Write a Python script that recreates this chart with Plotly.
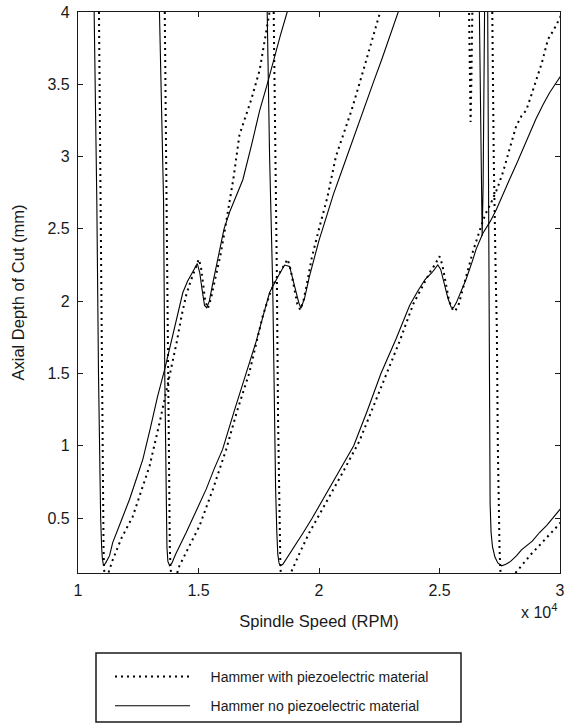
import plotly.graph_objects as go

# Spindle speed in units of 1e4 RPM, axial depth of cut in mm
# ---- Hammer with piezoelectric material (dotted) ----
d1_x = [1.087, 1.093, 1.099, 1.102, 1.104, 1.106, 1.108, 1.111, 1.115, 1.120, 1.126, 1.144, 1.180, 1.227, 1.260, 1.297,
        1.340, 1.380, 1.410, 1.430, 1.450, 1.470, 1.490, 1.501, 1.510, 1.518, 1.528, 1.539, 1.552, 1.566, 1.590, 1.605,
        1.625, 1.645, 1.670, 1.700, 1.720, 1.754, 1.778, 1.795, 1.810]
d1_y = [4.00, 2.70, 1.50, 0.90, 0.50, 0.30, 0.15, 0.06, 0.03, 0.06, 0.12, 0.21, 0.36, 0.51, 0.68, 0.86,
        1.17, 1.48, 1.72, 1.90, 2.05, 2.15, 2.24, 2.29, 2.24, 2.13, 2.00, 1.95, 2.02, 2.13, 2.31, 2.45,
        2.65, 2.85, 3.15, 3.30, 3.40, 3.60, 3.83, 4.00, 4.15]

d2_x = [1.360, 1.368, 1.373, 1.376, 1.379, 1.381, 1.384, 1.388, 1.393, 1.400, 1.410, 1.421, 1.460, 1.504, 1.560, 1.615,
        1.660, 1.710, 1.767, 1.796, 1.820, 1.845, 1.870, 1.882, 1.895, 1.910, 1.922, 1.935, 1.950, 1.970, 2.000, 2.035,
        2.070, 2.100, 2.135, 2.167, 2.210, 2.256, 2.280]
d2_y = [4.00, 2.70, 1.50, 0.90, 0.50, 0.30, 0.15, 0.06, 0.03, 0.06, 0.12, 0.17, 0.30, 0.445, 0.70, 0.975,
        1.24, 1.50, 1.90, 2.05, 2.15, 2.22, 2.29, 2.22, 2.10, 1.98, 1.94, 2.00, 2.12, 2.30, 2.50, 2.72,
        3.00, 3.15, 3.32, 3.50, 3.75, 4.00, 4.15]

d3_x = [1.812, 1.820, 1.825, 1.830, 1.834, 1.837, 1.840, 1.845, 1.852, 1.862, 1.872, 1.882, 1.920, 1.960, 2.000, 2.050,
        2.100, 2.167, 2.220, 2.279, 2.334, 2.391, 2.430, 2.460, 2.480, 2.500, 2.512, 2.525, 2.540, 2.555, 2.565, 2.580,
        2.600, 2.620, 2.638, 2.665, 2.690, 2.714, 2.740, 2.763, 2.790, 2.818, 2.840, 2.860, 2.880, 2.900, 2.925, 2.950,
        2.975, 3.000, 3.020]
d3_y = [4.00, 3.00, 2.20, 1.20, 0.60, 0.30, 0.15, 0.06, 0.02, 0.04, 0.08, 0.12, 0.26, 0.40, 0.52, 0.66,
        0.82, 1.03, 1.25, 1.50, 1.72, 1.98, 2.10, 2.20, 2.25, 2.31, 2.25, 2.12, 2.00, 1.94, 1.93, 1.98,
        2.10, 2.22, 2.34, 2.48, 2.60, 2.68, 2.78, 2.89, 3.05, 3.21, 3.28, 3.32, 3.42, 3.53, 3.65, 3.81,
        3.88, 3.96, 4.05]

d4_x = [2.719, 2.725, 2.733, 2.738, 2.742, 2.746, 2.749, 2.752, 2.758, 2.770, 2.785, 2.800, 2.810, 2.840, 2.880, 2.920,
        2.960, 3.000, 3.020]
d4_y = [4.00, 3.00, 2.20, 1.80, 1.00, 0.50, 0.30, 0.15, 0.05, 0.00, 0.02, 0.07, 0.11, 0.17, 0.25, 0.32,
        0.39, 0.46, 0.50]

d5_x = [2.621, 2.624, 2.627, 2.629, 2.632, 2.635, 2.638]
d5_y = [4.20, 3.80, 3.50, 3.24, 3.50, 3.80, 4.20]

# ---- Hammer no piezoelectric material (solid) ----
s1_x = [1.067, 1.078, 1.085, 1.089, 1.094, 1.098, 1.101, 1.106, 1.115, 1.131, 1.144, 1.179, 1.214, 1.240, 1.269, 1.300,
        1.330, 1.360, 1.380, 1.410, 1.435, 1.455, 1.470, 1.485, 1.495, 1.505, 1.515, 1.525, 1.534, 1.545, 1.560, 1.575,
        1.590, 1.606, 1.630, 1.655, 1.684, 1.720, 1.754, 1.785, 1.810, 1.840, 1.868, 1.900]
s1_y = [4.00, 2.70, 1.50, 0.90, 0.50, 0.30, 0.22, 0.17, 0.19, 0.24, 0.33, 0.48, 0.63, 0.76, 0.906, 1.12,
        1.34, 1.53, 1.67, 1.88, 2.06, 2.14, 2.19, 2.23, 2.26, 2.20, 2.08, 1.97, 1.955, 2.00, 2.13, 2.25,
        2.38, 2.50, 2.62, 2.72, 2.84, 3.08, 3.32, 3.50, 3.66, 3.84, 4.00, 4.20]

s2_x = [1.338, 1.355, 1.360, 1.363, 1.366, 1.369, 1.373, 1.380, 1.390, 1.405, 1.449, 1.490, 1.532, 1.565, 1.600, 1.650,
        1.696, 1.739, 1.765, 1.795, 1.830, 1.857, 1.878, 1.898, 1.916, 1.925, 1.940, 1.960, 1.980, 2.000, 2.030, 2.060,
        2.090, 2.120, 2.150, 2.190, 2.227, 2.260, 2.300, 2.330, 2.360]
s2_y = [4.00, 2.70, 1.50, 0.90, 0.50, 0.30, 0.20, 0.17, 0.19, 0.25, 0.40, 0.55, 0.70, 0.84, 0.975, 1.25,
        1.50, 1.72, 1.88, 2.06, 2.17, 2.25, 2.24, 2.10, 1.99, 1.95, 2.02, 2.17, 2.30, 2.42, 2.58, 2.74,
        2.88, 3.02, 3.17, 3.36, 3.52, 3.67, 3.86, 4.00, 4.15]

s3_x = [1.785, 1.795, 1.808, 1.815, 1.820, 1.825, 1.829, 1.834, 1.840, 1.850, 1.870, 1.900, 1.935, 1.972, 2.020, 2.070,
        2.110, 2.144, 2.200, 2.257, 2.320, 2.376, 2.410, 2.440, 2.470, 2.493, 2.505, 2.520, 2.535, 2.548, 2.558, 2.570,
        2.590, 2.610, 2.635, 2.652, 2.680, 2.710, 2.735, 2.760, 2.790, 2.820, 2.846, 2.875, 2.900, 2.930, 2.956, 2.980,
        3.000, 3.020]
s3_y = [4.00, 3.00, 2.10, 1.20, 0.70, 0.40, 0.25, 0.19, 0.17, 0.18, 0.23, 0.31, 0.40, 0.50, 0.64, 0.78,
        0.90, 1.00, 1.24, 1.50, 1.74, 1.97, 2.07, 2.15, 2.20, 2.25, 2.22, 2.12, 2.02, 1.96, 1.955, 1.99,
        2.07, 2.15, 2.27, 2.36, 2.47, 2.55, 2.63, 2.72, 2.84, 2.95, 3.05, 3.16, 3.26, 3.36, 3.44, 3.50,
        3.55, 3.60]

s4_x = [2.700, 2.703, 2.705, 2.707, 2.710, 2.714, 2.720, 2.730, 2.742, 2.758, 2.775, 2.795, 2.820, 2.840, 2.865, 2.885,
        2.915, 2.945, 2.970, 2.985, 3.000, 3.020]
s4_y = [4.00, 3.00, 2.00, 1.00, 0.60, 0.40, 0.30, 0.23, 0.19, 0.17, 0.18, 0.20, 0.24, 0.28, 0.31, 0.34,
        0.40, 0.45, 0.50, 0.53, 0.56, 0.60]

s5_x = [2.664, 2.668, 2.673, 2.677, 2.681, 2.684, 2.688]
s5_y = [4.20, 3.50, 2.80, 2.45, 2.80, 3.50, 4.20]

x_ticks = [1, 1.5, 2, 2.5, 3]
y_ticks = [0.5, 1, 1.5, 2, 2.5, 3, 3.5, 4]
series_names = ["Hammer with piezoelectric material", "Hammer no piezoelectric material"]


def join(parts):
    xs, ys = [], []
    for px, py in parts:
        xs += list(px) + [None]
        ys += list(py) + [None]
    return xs, ys


dot_x, dot_y = join([(d1_x, d1_y), (d2_x, d2_y), (d3_x, d3_y), (d4_x, d4_y), (d5_x, d5_y)])
sol_x, sol_y = join([(s1_x, s1_y), (s2_x, s2_y), (s3_x, s3_y), (s4_x, s4_y), (s5_x, s5_y)])

FONT = "Liberation Sans, Arial, sans-serif"
INK = "#1a1a1a"
PAD = "\u00a0" * 4  # gap between legend sample and its label

fig = go.Figure()
fig.add_trace(go.Scatter(x=dot_x, y=dot_y, mode="lines", name=PAD + series_names[0], legendgroup="a",
                         line=dict(color="black", width=2, dash="2px,4px"), connectgaps=False))
fig.add_trace(go.Scatter(x=sol_x, y=sol_y, mode="lines", name=PAD + series_names[1], legendgroup="b",
                         line=dict(color="black", width=1.1), connectgaps=False))

axis_common = dict(showline=True, linecolor=INK, linewidth=1.3, mirror="ticks", ticks="inside",
                   ticklen=5, tickwidth=1, tickcolor=INK, showgrid=False, zeroline=False,
                   ticklabeloverflow="allow",
                   tickfont=dict(family=FONT, size=16, color=INK))

fig.update_xaxes(range=[1, 3], tickvals=x_ticks, ticktext=[f"{v:g}" for v in x_ticks],
                 title=dict(text="Spindle Speed (RPM)", font=dict(family=FONT, size=16.5, color=INK), standoff=17),
                 ticklabelstandoff=3, **axis_common)
fig.update_yaxes(range=[0.12, 4], tickvals=y_ticks, ticktext=[f"{v:g}" for v in y_ticks],
                 title=dict(text="Axial Depth of Cut (mm)", font=dict(family=FONT, size=16.5, color=INK), standoff=18),
                 ticklabelstandoff=4, **axis_common)

W, H = 564, 725
L, R, T, B = 78, 4, 12, 152
pw, ph = W - L - R, H - T - B


def px_x(p):
    return (p - L) / pw


def px_y(p):
    return (H - B - p) / ph


fig.add_annotation(xref="paper", yref="paper", x=px_x(559), y=px_y(611), text="x 10<sup>4</sup>",
                   showarrow=False, font=dict(family=FONT, size=16, color=INK), xanchor="right", yanchor="middle")

fig.add_shape(type="rect", xref="paper", yref="paper", x0=px_x(96), x1=px_x(461), y0=px_y(722), y1=px_y(653),
              line=dict(color=INK, width=1.5), fillcolor="rgba(0,0,0,0)", layer="above")

fig.update_layout(
    width=W, height=H, margin=dict(l=L, r=R, t=T, b=B, autoexpand=False),
    paper_bgcolor="white", plot_bgcolor="white",
    font=dict(family=FONT, color=INK),
    showlegend=True,
    legend=dict(x=px_x(110), y=px_y(661), xanchor="left", yanchor="top", orientation="v",
                bgcolor="rgba(0,0,0,0)", borderwidth=0, itemwidth=75, tracegroupgap=8,
                font=dict(family=FONT, size=14, color=INK), traceorder="grouped"),
)

fig.write_html("out.html", config={"displayModeBar": False},
               post_script="document.body.style.margin='0px';document.body.style.padding='0px';"
                           "document.body.style.overflow='hidden';")
